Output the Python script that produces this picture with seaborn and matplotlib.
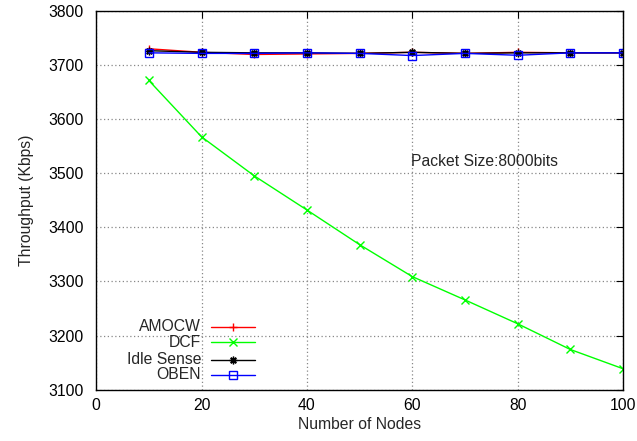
import numpy as np
import pandas as pd
import seaborn as sns
import matplotlib
matplotlib.use("Agg")
import matplotlib.pyplot as plt
from matplotlib.lines import Line2D

# Throughput vs. number of nodes for each contention scheme
nodes = [10, 20, 30, 40, 50, 60, 70, 80, 90, 100]
amocw = [3729.5, 3723, 3719, 3720, 3721, 3723, 3721, 3723, 3722, 3722]
dcf = [3671, 3567, 3495, 3432, 3368, 3309, 3266, 3222, 3174.5, 3139]
idle_sense = [3726, 3723, 3722, 3722, 3721, 3723, 3721, 3722, 3722, 3722]
oben = [3722, 3721, 3721, 3722, 3721, 3717, 3721, 3717.5, 3722, 3722]

series_names = ["AMOCW", "DCF", "Idle Sense", "OBEN"]
series_values = [amocw, dcf, idle_sense, oben]
colors = {"AMOCW": "#ff0000", "DCF": "#00ff00", "Idle Sense": "#000000", "OBEN": "#0000ff"}
markers = {"AMOCW": "+", "DCF": "x", "Idle Sense": (8, 2, 0), "OBEN": "s"}

df = pd.DataFrame({
    "Nodes": np.tile(nodes, len(series_names)),
    "Throughput": np.concatenate(series_values),
    "Scheme": np.repeat(series_names, len(nodes)),
})

sns.set_theme(style="white")
plt.rcParams["font.family"] = ["Liberation Sans", "DejaVu Sans"]
FS = 11.3
MS = 5.5

fig = plt.figure(figsize=(6.37, 4.41), dpi=100)
ax = fig.add_axes([0.151, 0.116, 0.827, 0.860])

for name in series_names:
    sub = df[df["Scheme"] == name]
    fc = "none" if name == "OBEN" else colors[name]
    sns.lineplot(data=sub, x="Nodes", y="Throughput", ax=ax, color=colors[name],
                 marker=markers[name], markersize=MS, markeredgewidth=1.0,
                 markeredgecolor=colors[name], markerfacecolor=fc,
                 linewidth=1.0, legend=False)

ax.set_xlim(0, 100)
ax.set_ylim(3100, 3800)
ax.set_xticks(np.arange(0, 101, 20))
ax.set_yticks(np.arange(3100, 3801, 100))
ax.grid(True, color="#888888", linestyle=(0, (1, 2)), linewidth=0.9)
ax.tick_params(direction="in", length=5, width=0.8, top=True, right=True,
               labelsize=FS, colors="black")
ax.tick_params(axis="y", pad=9)
ax.tick_params(axis="x", pad=6)
for sp in ax.spines.values():
    sp.set_color("black")
    sp.set_linewidth(1.0)

ax.set_xlabel("Number of Nodes", fontsize=FS, labelpad=3)
ax.set_ylabel("Throughput (Kbps)", fontsize=FS, labelpad=10)

ax.text(59.8, 3522, "Packet Size:8000bits", fontsize=FS, va="center", ha="left")

# Legend: labels right-aligned, line samples to their right
leg_y = [0.167, 0.125, 0.080, 0.040]
for name, yy in zip(series_names, leg_y):
    ax.text(0.199, yy, name, transform=ax.transAxes, ha="right", va="center", fontsize=FS)
    fc = "none" if name == "OBEN" else colors[name]
    ax.add_line(Line2D([0.218, 0.302], [yy, yy], transform=ax.transAxes,
                       color=colors[name], linewidth=1.0))
    ax.add_line(Line2D([0.26], [yy], transform=ax.transAxes, color=colors[name],
                       marker=markers[name], markersize=MS, markeredgewidth=1.0,
                       markeredgecolor=colors[name], markerfacecolor=fc,
                       linestyle="none"))

fig.savefig("out.png", dpi=100)
